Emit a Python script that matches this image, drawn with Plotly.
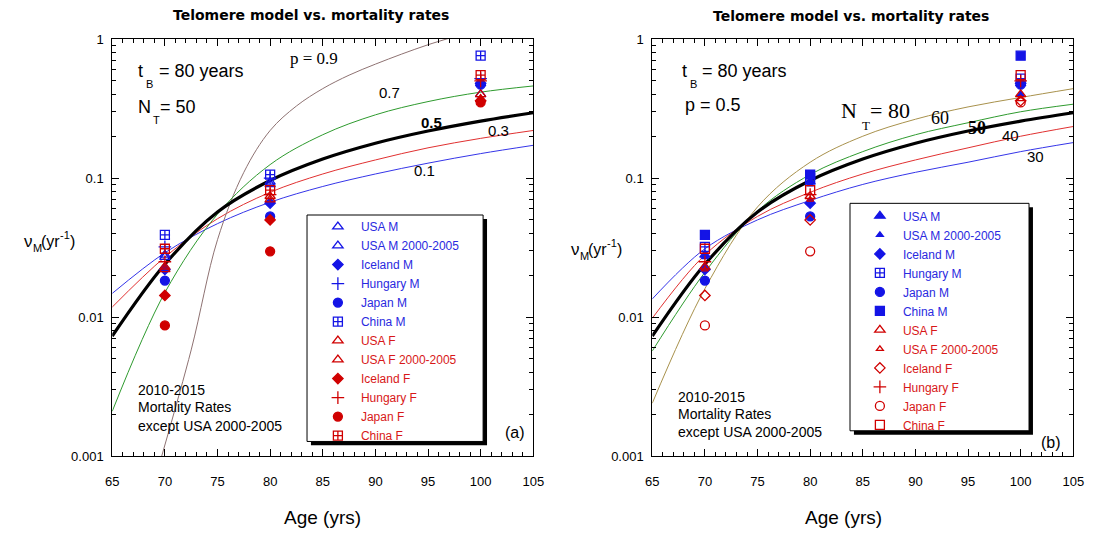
import plotly.graph_objects as go

W, H = 1102, 535

# ---------------- data ----------------
ages_obs = [70, 80, 100]
usa_m = [0.028, 0.094, 0.48]
usa_m_0005 = [0.027, 0.090, 0.40]
iceland_m = [0.022, 0.066, 0.48]
hungary_m = [0.032, 0.100, 0.52]
japan_m = [0.0183, 0.053, 0.47]
china_m = [0.039, 0.106, 0.76]
usa_f = [0.023, 0.074, 0.40]
usa_f_0005 = [0.022, 0.070, 0.37]
iceland_f = [0.0143, 0.050, 0.36]
hungary_f = [0.025, 0.076, 0.50]
japan_f = [0.0087, 0.0297, 0.35]
china_f = [0.031, 0.082, 0.55]

ages_curve = [65, 70, 75, 80, 85, 90, 95, 100, 105]
# panel (a): N_T = 50, varying p
p01 = [0.0148, 0.029, 0.047, 0.067, 0.087, 0.107, 0.128, 0.150, 0.172]
p03 = [0.0118, 0.027, 0.051, 0.079, 0.107, 0.135, 0.165, 0.193, 0.220]
p05 = [0.0073, 0.024, 0.057, 0.096, 0.137, 0.178, 0.218, 0.257, 0.295]
p07 = [0.0021, 0.015, 0.055, 0.125, 0.205, 0.285, 0.355, 0.415, 0.460]
ages_p09 = [69.7, 72.5, 75, 77.5, 80, 82.5, 85, 87.5, 90, 92.5, 95, 97.5]
p09 = [0.001, 0.0058, 0.036, 0.11, 0.22, 0.33, 0.44, 0.55, 0.66, 0.78, 0.91, 1.04]
# panel (b): p = 0.5, varying N_T
nt30 = [0.0135, 0.031, 0.050, 0.069, 0.090, 0.110, 0.130, 0.155, 0.180]
nt40 = [0.0098, 0.028, 0.053, 0.079, 0.107, 0.135, 0.165, 0.200, 0.235]
nt50 = [0.0073, 0.024, 0.057, 0.096, 0.137, 0.178, 0.218, 0.257, 0.295]
nt60 = [0.0057, 0.021, 0.058, 0.106, 0.155, 0.205, 0.250, 0.300, 0.340]
nt80 = [0.0024, 0.016, 0.062, 0.130, 0.200, 0.265, 0.325, 0.380, 0.440]

series_names = ["USA M", "USA M 2000-2005", "Iceland M", "Hungary M", "Japan M", "China M",
                "USA F", "USA F 2000-2005", "Iceland F", "Hungary F", "Japan F", "China F"]
series_vals = [usa_m, usa_m_0005, iceland_m, hungary_m, japan_m, china_m,
               usa_f, usa_f_0005, iceland_f, hungary_f, japan_f, china_f]

BLUE = "#1414E6"
RED = "#D00000"
BLUE_T = "#2A2AE0"
RED_T = "#D81818"

sym_a = ["triangle-up-open", "triangle-up-open", "diamond", "cross-thin", "circle", "square-cross-open",
         "triangle-up-open", "triangle-up-open", "diamond", "cross-thin", "circle", "square-cross-open"]
size_a = [9, 9, 8, 9, 9, 9, 9, 9, 8, 9, 9, 9]
sym_b = ["triangle-up", "triangle-up", "diamond", "square-cross-open", "circle", "square",
         "triangle-up-open", "triangle-up-open", "diamond-open", "cross-thin", "circle-open", "square-open"]
size_b = [9, 6, 8, 9, 9, 9, 9, 6, 8, 9, 9, 9]


def px(x):
    return x / W


def py(y):
    return 1 - y / H


fig = go.Figure()

# model curves
curves_a = [(ages_curve, p01, "#3535E8", 1), (ages_curve, p03, "#E03030", 1),
            (ages_p09, p09, "#8E7272", 1), (ages_curve, p07, "#2E9A2E", 1),
            (ages_curve, p05, "black", 3.2)]
for xs, ys, c, w in curves_a:
    fig.add_trace(go.Scatter(x=xs, y=ys, mode="lines", line=dict(color=c, width=w, shape="spline"),
                             showlegend=False, hoverinfo="skip", xaxis="x", yaxis="y"))
curves_b = [(ages_curve, nt30, "#3535E8", 1), (ages_curve, nt40, "#E03030", 1),
            (ages_curve, nt80, "#A8914C", 1), (ages_curve, nt60, "#2E9A2E", 1),
            (ages_curve, nt50, "black", 3.2)]
for xs, ys, c, w in curves_b:
    fig.add_trace(go.Scatter(x=xs, y=ys, mode="lines", line=dict(color=c, width=w, shape="spline"),
                             showlegend=False, hoverinfo="skip", xaxis="x2", yaxis="y2"))

# observed points
for i, (nm, vals) in enumerate(zip(series_names, series_vals)):
    col = BLUE if i < 6 else RED
    tcol = BLUE_T if i < 6 else RED_T
    for syms, sizes, xa, ya, lg in [(sym_a, size_a, "x", "y", "legend"),
                                    (sym_b, size_b, "x2", "y2", "legend2")]:
        fig.add_trace(go.Scatter(
            x=ages_obs, y=vals, mode="markers", xaxis=xa, yaxis=ya, legend=lg,
            name=f"<span style='color:{tcol}'>{nm}</span>",
            marker=dict(symbol=syms[i], size=sizes[i], color=col,
                        line=dict(color=col, width=1.3)),
        ))

dom_xa = [px(107), px(535)]
dom_xb = [px(656), px(1084)]
dom_y = [py(462), py(33)]

tickfont = dict(family="Arial, Liberation Sans", size=13, color="black")


def xax(domain, anchor):
    return dict(domain=domain, anchor=anchor, range=[65, 105], tick0=65, dtick=5,
                ticks="inside", ticklen=7, tickwidth=1, tickcolor="black",
                showline=True, linecolor="black", linewidth=1, mirror="ticks",
                showgrid=False, zeroline=False, tickfont=tickfont, ticklabelstandoff=13,
                minor=dict(dtick=1, tick0=65, ticks="inside", ticklen=4, tickcolor="black",
                           tickwidth=1, showgrid=False))


minor_y = [m * 10 ** e for e in (-3, -2, -1) for m in range(2, 10)]


def yax(domain, anchor):
    return dict(domain=domain, anchor=anchor, type="log", range=[-3, 0],
                tickmode="array", tickvals=[0.001, 0.01, 0.1, 1],
                ticktext=["0.001", "0.01", "0.1", "1"],
                ticks="inside", ticklen=7, tickwidth=1, tickcolor="black",
                showline=True, linecolor="black", linewidth=1, mirror="ticks",
                showgrid=False, zeroline=False, tickfont=tickfont, ticklabelstandoff=5,
                minor=dict(tickmode="array", tickvals=minor_y, ticks="inside", ticklen=4,
                           tickcolor="black", tickwidth=1, showgrid=False))


legfont = dict(family="Arial, Liberation Sans", size=12, color="black")

fig.update_layout(
    width=W, height=H, autosize=False,
    margin=dict(l=0, r=0, t=0, b=0),
    paper_bgcolor="white", plot_bgcolor="white",
    xaxis=xax(dom_xa, "y"), yaxis=yax(dom_y, "x"),
    xaxis2=xax(dom_xb, "y2"), yaxis2=yax(dom_y, "x2"),
    legend=dict(x=px(313), y=py(211), xanchor="left", yanchor="top", bgcolor="rgba(0,0,0,0)",
                borderwidth=0, font=legfont, itemwidth=36, tracegroupgap=0),
    legend2=dict(x=px(864), y=py(200), xanchor="left", yanchor="top", bgcolor="rgba(0,0,0,0)",
                 borderwidth=0, font=legfont, itemwidth=36, tracegroupgap=0),
    showlegend=True,
)

# legend boxes with shadow
shapes = []
for (x0, y0, x1, y1) in [(305, 214, 484, 447), (857, 202, 1039, 436)]:
    shapes.append(dict(type="rect", xref="paper", yref="paper", x0=px(x0 + 4), x1=px(x1 + 4),
                       y0=py(y1 + 4), y1=py(y0 + 4), fillcolor="black", line=dict(width=0),
                       layer="above"))
    shapes.append(dict(type="rect", xref="paper", yref="paper", x0=px(x0), x1=px(x1),
                       y0=py(y1), y1=py(y0), fillcolor="white",
                       line=dict(color="black", width=1), layer="above"))
fig.update_layout(shapes=shapes)

ann = []
SANS = "Arial, Liberation Sans"
SERIF = "Times New Roman, Liberation Serif"


def text(x, y, s, size, family=SANS, xanchor="left", yanchor="middle", color="black"):
    ann.append(dict(x=px(x), y=py(y), xref="paper", yref="paper", text=s, showarrow=False,
                    xanchor=xanchor, yanchor=yanchor, align="left",
                    font=dict(family=family, size=size, color=color)))


# titles
text(309, 8, "<b>Telomere model vs. mortality rates</b>", 14, family="DejaVu Sans", xanchor="center")
text(858, 9, "<b>Telomere model vs. mortality rates</b>", 14, family="DejaVu Sans", xanchor="center")

# panel (a) texts
text(131, 66, "t", 18)
text(139, 79, "B", 11)
text(152, 66, "= 80 years", 18)
text(131, 103, "N", 18)
text(146, 116, "T", 11)
text(153, 103, "= 50", 18)
text(286, 53, "p = 0.9", 17, family=SERIF)
text(389, 88, "0.7", 15, xanchor="center")
text(432, 119, "<b>0.5</b>", 15, xanchor="center")
text(500, 127, "0.3", 15, xanchor="center")
text(424, 168, "0.1", 15, xanchor="center")
text(131, 394, "2010-2015", 14)
text(131, 412, "Mortality Rates", 14)
text(131, 431, "except USA 2000-2005", 14)
text(516, 438, "(a)", 16, xanchor="center")
text(15, 241, "ν", 17)
text(24, 248, "M", 11)
text(33, 241, "(yr", 16)
text(52, 235, "-1", 11)
text(62, 241, ")", 16)
text(321, 525, "Age (yrs)", 19, xanchor="center")

# panel (b) texts
text(684, 66, "t", 18)
text(692, 79, "B", 11)
text(705, 66, "= 80 years", 18)
text(687, 101, "p = 0.5", 18)
text(846, 106, "N", 22, family=SERIF)
text(867, 122, "T", 13, family=SERIF)
text(875, 106, "= 80", 22, family=SERIF)
text(948, 114, "60", 18, family=SERIF, xanchor="center")
text(986, 124, "<b>50</b>", 18, family=SERIF, xanchor="center")
text(1020, 132, "40", 15, xanchor="center")
text(1046, 154, "30", 15, xanchor="center")
text(680, 401, "2010-2015", 14)
text(680, 419, "Mortality Rates", 14)
text(680, 437, "except USA 2000-2005", 14)
text(1061, 448, "(b)", 16, xanchor="center")
text(571, 249, "ν", 17)
text(580, 256, "M", 11)
text(589, 249, "(yr", 16)
text(608, 243, "-1", 11)
text(618, 249, ")", 16)
text(850, 525, "Age (yrs)", 19, xanchor="center")

fig.update_layout(annotations=ann)

fig.write_html("out.html")
